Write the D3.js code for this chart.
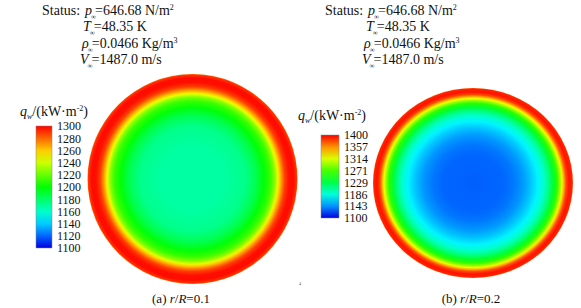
<!DOCTYPE html>
<html>
<head>
<meta charset="utf-8">
<script src="https://cdn.jsdelivr.net/npm/d3@7"></script>
<style>
  body { margin: 0; background: #fff; }
  svg { display: block; }
  svg text { font-family: "Liberation Serif", "DejaVu Serif", serif; }
</style>
</head>
<body>
<div id="chart"></div>
<script>
// --- radial heat flux profiles (r/R, q_w in kW/m^2) ---
const rLeft = [0, 0.30, 0.50, 0.60, 0.68, 0.74, 0.78, 0.81, 0.83, 0.855, 0.88, 0.92, 0.96, 0.99, 1.0];
const qLeft = [1168, 1168, 1173, 1184, 1198, 1210, 1225, 1245, 1260, 1275, 1288, 1297, 1298, 1290, 1280];

const rRight = [0, 0.30, 0.40, 0.50, 0.58, 0.65, 0.71, 0.76, 0.80, 0.84, 0.87, 0.89, 0.91, 0.93, 0.96, 0.99, 1.0];
const qRight = [1128, 1130, 1135, 1145, 1158, 1172, 1190, 1212, 1235, 1262, 1295, 1320, 1350, 1378, 1395, 1390, 1375];

// colorbar tick labels
const ticksLeft = [1300, 1280, 1260, 1240, 1220, 1200, 1180, 1160, 1140, 1120, 1100];
const ticksRight = [1400, 1357, 1314, 1271, 1229, 1186, 1143, 1100];

// free stream status lines
const statusSyms = ["p", "T", "ρ", "V"];
const statusVals = ["=646.68 N/m", "=48.35 K", "=0.0466 Kg/m", "=1487.0 m/s"];
const statusSups = ["2", null, "3", null];
const captions = ["(a) ", "(b) "];
const captionVals = ["=0.1", "=0.2"];

const width = 581, height = 308;
const serif = "Liberation Serif";

const svg = d3.select("#chart").append("svg")
  .attr("width", width)
  .attr("height", height)
  .attr("font-family", serif);
const defs = svg.append("defs");

// rainbow like the solver's palette: blue -> cyan -> green -> yellow -> red
const rainbow = t => d3.hsl(240 * (1 - t), 1, t < 0.05 ? 0.44 + t * 1.2 : 0.5).formatHex();

const panels = [
  { id: "a", r: rLeft, q: qLeft, ticks: ticksLeft, domain: [1100, 1300],
    cx: 192.5, cy: 179, rx: 105, ry: 105,
    status: 42, statusY: 15,
    bar: { x: 36, w: 16, y0: 126, y1: 248 }, titleX: 20, titleY: 116,
    capX: 181 },
  { id: "b", r: rRight, q: qRight, ticks: ticksRight, domain: [1100, 1400],
    cx: 473, cy: 183, rx: 100, ry: 95,
    status: 325, statusY: 15,
    bar: { x: 321, w: 18, y0: 135, y1: 218 }, titleX: 298, titleY: 120,
    capX: 471 }
];

panels.forEach((p, i) => {
  const color = d3.scaleSequential(rainbow).domain(p.domain);
  const rScale = d3.scaleLinear().domain([0, 1]).range([0, 100]);

  // --- disk: radial gradient built from the profile ---
  const rg = defs.append("radialGradient").attr("id", "disk-" + p.id);
  rg.selectAll("stop")
    .data(p.r.map((r, k) => ({ r: r, q: p.q[k] })))
    .enter().append("stop")
    .attr("offset", d => rScale(d.r) + "%")
    .attr("stop-color", d => color(d.q));

  svg.append("ellipse")
    .attr("cx", p.cx).attr("cy", p.cy)
    .attr("rx", p.rx).attr("ry", p.ry)
    .attr("fill", "url(#disk-" + p.id + ")");

  // --- colorbar ---
  const y = d3.scaleLinear().domain(p.domain).range([p.bar.y1, p.bar.y0]);
  const lg = defs.append("linearGradient").attr("id", "bar-" + p.id)
    .attr("x1", 0).attr("y1", 1).attr("x2", 0).attr("y2", 0);
  lg.selectAll("stop")
    .data(p.ticks.slice().reverse())
    .enter().append("stop")
    .attr("offset", d => ((d - p.domain[0]) / (p.domain[1] - p.domain[0]) * 100) + "%")
    .attr("stop-color", d => color(d));

  svg.append("rect")
    .attr("x", p.bar.x).attr("y", p.bar.y0)
    .attr("width", p.bar.w).attr("height", p.bar.y1 - p.bar.y0)
    .attr("fill", "url(#bar-" + p.id + ")")
    .attr("stroke", "#888").attr("stroke-width", 0.5);

  const axis = d3.axisRight(y).tickValues(p.ticks).tickSize(0).tickPadding(5).tickFormat(d3.format("d"));
  const ax = svg.append("g")
    .attr("transform", `translate(${p.bar.x + p.bar.w},0)`)
    .call(axis)
    .attr("font-family", serif)
    .attr("font-size", 12);
  ax.select(".domain").remove();
  ax.selectAll("text").attr("fill", "#111");

  // --- colorbar title q_w/(kW·m^-2) ---
  const tt = svg.append("text")
    .attr("x", p.titleX).attr("y", p.titleY)
    .attr("font-size", 14).attr("fill", "#111");
  tt.append("tspan").attr("font-style", "italic").text("q");
  tt.append("tspan").attr("font-style", "italic").attr("font-size", 8).attr("dy", 3).text("w");
  tt.append("tspan").attr("dy", -3).text("/(kW·m");
  tt.append("tspan").attr("font-size", 8).attr("dy", -5).text("-2");
  tt.append("tspan").attr("dy", 5).text(")");

  // --- status block ---
  const offs = i === 0 ? [43, 41, 40, 38] : [43, 41, 39, 37];
  svg.append("text")
    .attr("x", p.status).attr("y", p.statusY)
    .attr("font-size", 14).attr("fill", "#111")
    .text("Status:");
  statusSyms.forEach((s, k) => {
    const t = svg.append("text")
      .attr("x", p.status + offs[k]).attr("y", p.statusY + k * 16.4)
      .attr("font-size", 14).attr("fill", "#111");
    t.append("tspan").attr("font-style", "italic").text(s);
    t.append("tspan").attr("font-size", 7).attr("dy", 4).attr("dx", -1).text("∞");
    t.append("tspan").attr("dy", -4).attr("dx", -1).text(statusVals[k]);
    if (statusSups[k]) {
      t.append("tspan").attr("font-size", 8).attr("dy", -5).text(statusSups[k]);
    }
  });

  // --- caption ---
  const c = svg.append("text")
    .attr("x", p.capX).attr("y", 303)
    .attr("text-anchor", "middle")
    .attr("font-size", 13).attr("fill", "#111");
  c.append("tspan").text(captions[i]);
  c.append("tspan").attr("font-style", "italic").text("r");
  c.append("tspan").text("/");
  c.append("tspan").attr("font-style", "italic").text("R");
  c.append("tspan").text(captionVals[i]);
});

// stray mark in the original scan
svg.append("text").attr("x", 299).attr("y", 285).attr("font-size", 4).attr("fill", "#444").text("4");
</script>
</body>
</html>
